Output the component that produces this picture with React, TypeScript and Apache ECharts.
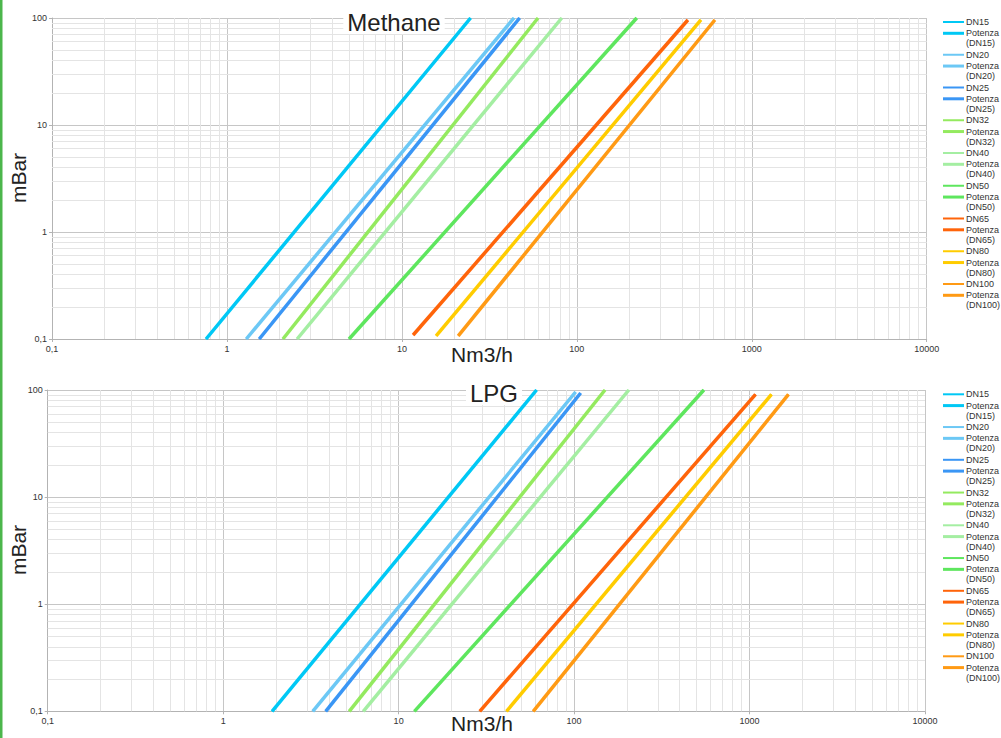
import React, { useEffect, useRef } from 'react';
import * as echarts from 'echarts';

// Series names (one measured line + one power trendline per pipe size)
const dnNames = ['DN15', 'DN20', 'DN25', 'DN32', 'DN40', 'DN50', 'DN65', 'DN80', 'DN100'];
const seriesColors = ['#00c8f5', '#6cc8f5', '#3a96f5', '#94ea5f', '#a4eea2', '#5ee65e', '#ff640a', '#ffcc00', '#ff9a14'];

// Methane: start / end point of each line (Nm3/h, mBar)
const methaneFlowStart = [0.76, 1.29, 1.53, 2.09, 2.52, 4.99, 11.6, 15.7, 21.0];
const methanePressStart = [0.1, 0.1, 0.1, 0.1, 0.1, 0.1, 0.109, 0.107, 0.107];
const methaneFlowEnd = [24.7, 43.7, 47.1, 60.0, 82.0, 220, 431, 512, 615];
const methanePressEnd = [100, 100, 100, 100, 100, 100, 95.8, 95.8, 95.8];

// LPG: start / end point of each line (Nm3/h, mBar)
const lpgFlowStart = [1.9, 3.24, 3.84, 5.23, 6.29, 12.3, 29.0, 41.2, 58.5];
const lpgPressStart = [0.1, 0.1, 0.1, 0.1, 0.1, 0.1, 0.1, 0.1, 0.1];
const lpgFlowEnd = [61.1, 102, 109, 150, 205, 549, 1082, 1334, 1667];
const lpgPressEnd = [100, 95.8, 93.7, 100, 100, 100, 91.2, 91.2, 91.2];

// Axis ranges
const xMin = 0.1;
const xMax = 10000;
const yMin = 0.1;
const yMax = 100;

const FONT = '"Liberation Sans", Arial, sans-serif';

function minorValues(min: number, max: number): number[] {
  const out: number[] = [];
  for (let d = min; d < max * 0.999; d *= 10) {
    for (let k = 2; k <= 9; k++) out.push(Number((d * k).toPrecision(6)));
  }
  return out;
}

const fmt = (v: number) => String(Number(Number(v).toPrecision(6))).replace('.', ',');
const potName = (dn: string) => `Potenza (${dn})`;

const chartDefs = [
  {
    title: 'Methane', titleX: 390, titleTop: 10,
    flowStart: methaneFlowStart, pressStart: methanePressStart,
    flowEnd: methaneFlowEnd, pressEnd: methanePressEnd,
    grid: { left: 52, top: 18, right: 74.3, bottom: 399 },
    xNameY: 354, yNameY: 178, legendTop: 17,
  },
  {
    title: 'LPG', titleX: 490, titleTop: 381,
    flowStart: lpgFlowStart, pressStart: lpgPressStart,
    flowEnd: lpgFlowEnd, pressEnd: lpgPressEnd,
    grid: { left: 47.7, top: 390, right: 76, bottom: 26.7 },
    xNameY: 723, yNameY: 550, legendTop: 389.3,
  },
];

function buildOption() {
  const grids: any[] = [];
  const xAxes: any[] = [];
  const yAxes: any[] = [];
  const series: any[] = [];
  const titles: any[] = [];
  const legends: any[] = [];
  const graphics: any[] = [];

  const minorX = minorValues(xMin, xMax);
  const minorY = minorValues(yMin, yMax);
  const allNames: string[] = [];
  dnNames.forEach((dn) => { allNames.push(dn); allNames.push(potName(dn)); });

  chartDefs.forEach((c, ci) => {
    grids.push({ ...c.grid, containLabel: false });
    const axisCommon = {
      type: 'log', logBase: 10, gridIndex: ci,
      axisLine: { show: true, onZero: false, lineStyle: { color: '#b3b3b3', width: 1 } },
      axisTick: { show: true, length: 3, lineStyle: { color: '#b3b3b3' } },
      splitLine: { show: true, lineStyle: { color: '#c6c6c6', width: 1 } },
      axisLabel: { fontSize: 9, color: '#333', fontFamily: FONT, formatter: fmt },
    };
    xAxes.push({ ...axisCommon, min: xMin, max: xMax, axisLabel: { ...axisCommon.axisLabel, margin: 5 } });
    yAxes.push({ ...axisCommon, min: yMin, max: yMax, axisLabel: { ...axisCommon.axisLabel, margin: 5 } });

    // minor grid
    series.push({
      type: 'line', name: '_grid' + ci, xAxisIndex: ci, yAxisIndex: ci, silent: true, z: 1,
      data: [[xMin, yMin]], symbol: 'none', lineStyle: { opacity: 0 },
      markLine: {
        silent: true, symbol: ['none', 'none'], label: { show: false }, animation: false, z: 1,
        lineStyle: { color: '#e4e4e4', width: 1, type: 'solid' },
        emphasis: { disabled: true },
        data: [...minorX.map((v) => ({ xAxis: v })), ...minorY.map((v) => ({ yAxis: v }))],
      },
    });

    dnNames.forEach((dn, i) => {
      const data = [[c.flowStart[i], c.pressStart[i]], [c.flowEnd[i], c.pressEnd[i]]];
      const color = seriesColors[i];
      series.push({
        type: 'line', name: dn, xAxisIndex: ci, yAxisIndex: ci, data, symbol: 'none', z: 3,
        color, lineStyle: { width: 2, color }, itemStyle: { color },
      });
      series.push({
        type: 'line', name: potName(dn), xAxisIndex: ci, yAxisIndex: ci, data, symbol: 'none', z: 4,
        color, lineStyle: { width: 3.5, color }, itemStyle: { color },
      });
    });

    titles.push({
      text: c.title, left: c.titleX, top: c.titleTop, textAlign: 'center',
      padding: [0, 4], backgroundColor: '#fff', z: 10,
      textStyle: { fontSize: 24, fontWeight: 'normal', color: '#222', fontFamily: FONT },
    });

    // text legend (icons hidden)
    legends.push({
      orient: 'vertical', left: 940, top: c.legendTop, padding: 0, itemGap: 1.375,
      itemWidth: 21, itemHeight: 10, icon: 'rect',
      itemStyle: { color: 'rgba(0,0,0,0)', borderWidth: 0 },
      data: allNames,
      formatter: (n: string) => n.replace(' (', '\n('),
      textStyle: { fontSize: 9, lineHeight: 10, color: '#333', fontFamily: FONT },
    });
    // icon legends (line icons aligned with the first text line)
    legends.push({
      orient: 'vertical', left: 943, top: c.legendTop, padding: 0, itemGap: 22.75,
      itemWidth: 21, itemHeight: 2, icon: 'rect', data: dnNames.slice(), formatter: () => ' ',
      textStyle: { fontSize: 9, lineHeight: 10 },
    });
    legends.push({
      orient: 'vertical', left: 943, top: c.legendTop + 11.3, padding: 0, itemGap: 22.75,
      itemWidth: 21, itemHeight: 3, icon: 'rect', data: dnNames.map(potName), formatter: () => ' ',
      textStyle: { fontSize: 9, lineHeight: 10 },
    });

    graphics.push({
      type: 'text', x: 482, y: c.xNameY, z: 10,
      style: { text: 'Nm3/h', fontSize: 21, fontFamily: FONT, fill: '#222', align: 'center', verticalAlign: 'middle' },
    });
    graphics.push({
      type: 'text', x: 18, y: c.yNameY, rotation: Math.PI / 2, z: 10,
      style: { text: 'mBar', fontSize: 21, fontFamily: FONT, fill: '#222', align: 'center', verticalAlign: 'middle' },
    });
  });

  graphics.push({ type: 'rect', x: 0, y: 0, z: 20, shape: { width: 2.5, height: 738 }, style: { fill: '#4cb64c' } });

  return {
    animation: false,
    backgroundColor: '#fff',
    textStyle: { fontFamily: FONT },
    title: titles,
    legend: legends,
    grid: grids,
    xAxis: xAxes,
    yAxis: yAxes,
    series,
    graphic: graphics,
  };
}

export default function App() {
  const ref = useRef<HTMLDivElement>(null);
  useEffect(() => {
    document.body.style.margin = '0';
    if (!ref.current) return;
    const chart = echarts.init(ref.current, undefined, { renderer: 'svg' });
    chart.setOption(buildOption() as any);
    return () => chart.dispose();
  }, []);
  return <div ref={ref} style={{ position: 'absolute', left: 0, top: 0, width: 1001, height: 738 }} />;
}
